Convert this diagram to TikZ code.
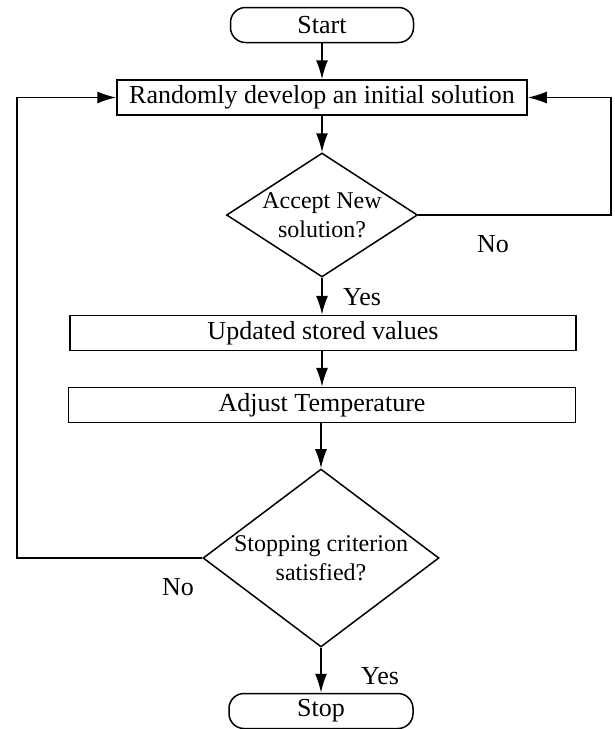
\documentclass[tikz,border=0pt]{standalone}
\usepackage{fontspec}
\setmainfont{Liberation Serif}
\usetikzlibrary{shapes.geometric,arrows.meta}
\begin{document}
\begin{tikzpicture}[x=1pt,y=-1pt,line width=1.5pt,line join=miter,
	font=\fontsize{26}{29}\selectfont,
	>={Latex[length=19pt,width=12pt]},
	term/.style={draw,rounded corners=15pt,inner sep=0pt,minimum height=35pt},
	proc/.style={draw,inner sep=0pt,minimum height=35pt},
	decision/.style={draw,diamond,align=center,inner sep=-4pt,font=\fontsize{24}{29}\selectfont}]
			\useasboundingbox (0,0) rectangle (615,729);
			\node[term,minimum width=183pt] (start) at (322,25) {Start};
			\node[proc,minimum width=410pt] (init) at (322,97.5) {Randomly develop an initial solution};
			\node[decision,minimum width=191pt,minimum height=124pt,aspect=1.54] (accept) at (322,215) {Accept New\\solution?};
			\node[proc,minimum width=506pt] (update) at (323,333) {Updated stored values};
			\node[proc,minimum width=507pt] (temp) at (322,405) {Adjust Temperature};
			\node[decision,minimum width=236pt,minimum height=178pt,aspect=1.33] (crit) at (321,558) {Stopping criterion\\satisfied?};
			\node[term,minimum width=184pt] (stop) at (321,711) {Stop};
			\coordinate (rloop) at (611,215);
			\coordinate (lloop) at (17,558);
			\draw[->] (start) -- (init);
			\draw[->] (init) -- (accept);
			\draw[->] (accept) -- (accept |- update.north);
			\draw[->] (update.south -| temp) -- (temp);
			\draw[->] (temp.south -| crit) -- (crit);
			\draw[->] (crit) -- (stop);
			\draw[->] (accept.east) -- (rloop) |- (init.east);
			\draw[->] (crit.west) -- (lloop) |- (init.west);
			\draw (362,297) node (yes1) {Yes}
			(493,244) node (no1) {No}
			(380,676) node (yes2) {Yes}
			(178,587) node (no2) {No};
			\end{tikzpicture}
\end{document}
